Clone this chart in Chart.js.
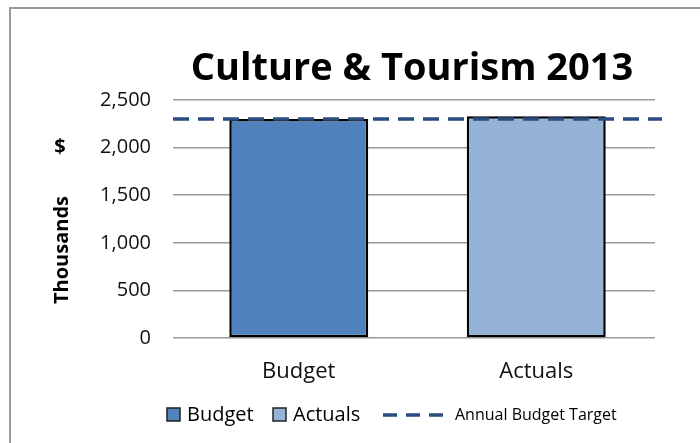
<!DOCTYPE html>
<html>
<head>
<meta charset="utf-8">
<script src="https://cdn.jsdelivr.net/npm/chart.js@4"></script>
<style>
  body { margin: 0; background: #fff; }
  canvas { display: block; }
</style>
</head>
<body>
<canvas id="chart" width="700" height="443"></canvas>
<script>
// DATA
const categories = ["Budget", "Actuals"];
const values = [2300, 2330];
const barColors = ["#4F81BD", "#95B3D7"];
const annualTarget = 2300;
const yTicks = [0, 500, 1000, 1500, 2000, 2500];

const title = "Culture & Tourism 2013";
const targetLabel = "Annual Budget Target";

// frame, title, axis captions, target line and legend
const decorations = {
    id: "decorations",
    beforeDraw(chart) {
        const ctx = chart.ctx;
        ctx.save();
        ctx.strokeStyle = "#9a9a9a";
        ctx.lineWidth = 2;
        ctx.strokeRect(10, 8, 720, 460);
        ctx.restore();
    },
    afterDatasetsDraw(chart) {
        const ctx = chart.ctx;
        const area = chart.chartArea;
        const y = chart.scales.y.getPixelForValue(annualTarget);
        ctx.save();
        ctx.strokeStyle = "#2B4C7E";
        ctx.lineWidth = 3.5;
        ctx.setLineDash([16, 9]);
        ctx.beginPath();
        ctx.moveTo(area.left - 7, y);
        ctx.lineTo(area.right + 7, y);
        ctx.stroke();
        ctx.restore();
    },
    afterDraw(chart) {
        const ctx = chart.ctx;
        ctx.save();
        ctx.fillStyle = "#000";

        ctx.font = "bold 38px 'Open Sans', sans-serif";
        ctx.textAlign = "center";
        ctx.textBaseline = "alphabetic";
        ctx.fillText(title, 412, 80);

        ctx.font = "bold 20px 'Open Sans', sans-serif";
        ctx.textBaseline = "middle";
        ctx.fillText("$", 60, 147);
        ctx.save();
        ctx.translate(62, 250);
        ctx.rotate(-Math.PI / 2);
        ctx.fillText("Thousands", 0, 0);
        ctx.restore();

        // legend
        const ly = 415;
        ctx.textAlign = "left";
        ctx.font = "20px 'Open Sans', sans-serif";
        const items = [[categories[0], barColors[0], 167], [categories[1], barColors[1], 273]];
        items.forEach(([label, color, x]) => {
            ctx.fillStyle = color;
            ctx.fillRect(x, ly - 7, 13, 13);
            ctx.strokeStyle = "#222";
            ctx.lineWidth = 1.5;
            ctx.strokeRect(x, ly - 7, 13, 13);
            ctx.fillStyle = "#000";
            ctx.fillText(label, x + 20, ly);
        });
        ctx.strokeStyle = "#2B4C7E";
        ctx.lineWidth = 3.5;
        ctx.setLineDash([14, 9]);
        ctx.beginPath();
        ctx.moveTo(383, ly);
        ctx.lineTo(446, ly);
        ctx.stroke();
        ctx.setLineDash([]);
        ctx.font = "16px 'Open Sans', sans-serif";
        ctx.fillText(targetLabel, 455, ly);
        ctx.restore();
    }
};

new Chart(document.getElementById("chart"), {
    type: "bar",
    data: {
        labels: categories,
        datasets: [{
            data: values,
            backgroundColor: barColors,
            borderColor: "#000",
            borderWidth: 2.5,
            borderSkipped: false,
            barPercentage: 0.585,
            categoryPercentage: 1
        }]
    },
    options: {
        responsive: false,
        animation: false,
        layout: { padding: { top: 100, right: 45, bottom: 45, left: 0 } },
        plugins: { legend: { display: false }, title: { display: false }, tooltip: { enabled: false } },
        scales: {
            x: {
                grid: { display: false, drawTicks: false },
                border: { display: false },
                ticks: { color: "#111", font: { family: "'Open Sans', sans-serif", size: 22 }, padding: 21 },
                afterFit(scale) { scale.height = 60; }
            },
            y: {
                min: 0,
                max: 2500,
                afterBuildTicks(scale) { scale.ticks = yTicks.map(v => ({ value: v })); },
                grid: { color: "#9a9a9a", lineWidth: 1.5, tickLength: 7 },
                border: { display: false },
                ticks: {
                    color: "#111",
                    font: { family: "'Open Sans', sans-serif", size: 20 },
                    padding: 22,
                    callback: v => v.toLocaleString("en-US")
                },
                afterFit(scale) { scale.width = 180; }
            }
        }
    },
    plugins: [decorations]
});
</script>
</body>
</html>
